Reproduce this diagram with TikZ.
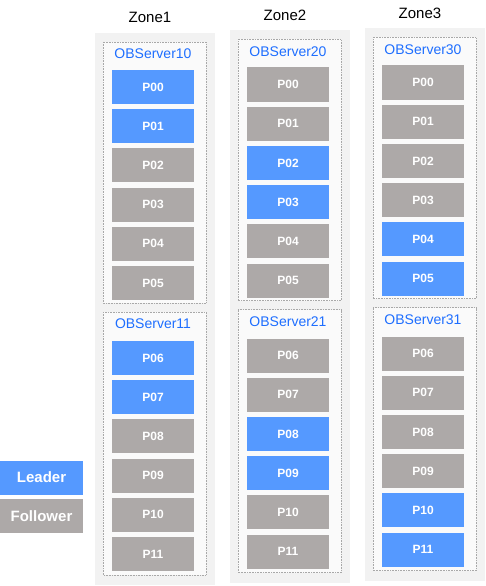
\documentclass[tikz,border=0pt]{standalone}
\usepackage{fontspec}
\setmainfont{Liberation Sans}
\usetikzlibrary{positioning}
\definecolor{LeaderBlue}{HTML}{5599FF}
\definecolor{FollowerGray}{HTML}{ADA9A8}
\definecolor{ZonePanel}{HTML}{F2F2F2}
\definecolor{ServerFill}{HTML}{FAFAFA}
\definecolor{ServerRule}{HTML}{A8A8A8}
\definecolor{ServerText}{HTML}{1E6EFF}
\tikzset{
  zonepanel/.style={fill=ZonePanel,draw=none},
  serverbox/.style={draw=ServerRule,fill=ServerFill,densely dotted,line width=.6pt},
  servername/.style={text=ServerText,font=\fontsize{14}{16}\selectfont,inner sep=0pt},
  zonename/.style={text=black,font=\fontsize{15}{17}\selectfont,inner sep=0pt},
  part/.style={minimum width=82pt,minimum height=34pt,inner sep=0pt,text=white,font=\bfseries\fontsize{12}{14}\selectfont},
  leader/.style={part,fill=LeaderBlue},
  follower/.style={part,fill=FollowerGray},
  legendbox/.style={minimum width=83pt,minimum height=34pt,inner sep=0pt,text=white,font=\bfseries\fontsize{15}{17}\selectfont}
}
\begin{document}
\begin{tikzpicture}[x=1pt,y=-1pt,node distance=4.8pt]
  \useasboundingbox (0,0) rectangle (486,586);
  % Zone1
  \begin{scope}
    \fill[zonepanel] (95,33) rectangle (215,585);
    \draw[serverbox] (103,42) rectangle (206,303);
    \draw[serverbox] (103,312) rectangle (206,575);
    \node[zonename] (z1name) at (150,17.5) {Zone1};
    \node[servername] (z1s0) at (153,54) {OBServer10};
    \node[servername] (z1s1) at (153,324) {OBServer11};
    \node[leader] (z1p00) at (153,87) {P00};
    \node[leader,below=of z1p00] (z1p01) {P01};
    \node[follower,below=of z1p01] (z1p02) {P02};
    \node[follower,below=of z1p02] (z1p03) {P03};
    \node[follower,below=of z1p03] (z1p04) {P04};
    \node[follower,below=of z1p04] (z1p05) {P05};
    \node[leader] (z1p06) at (153,358) {P06};
    \node[leader,below=of z1p06] (z1p07) {P07};
    \node[follower,below=of z1p07] (z1p08) {P08};
    \node[follower,below=of z1p08] (z1p09) {P09};
    \node[follower,below=of z1p09] (z1p10) {P10};
    \node[follower,below=of z1p10] (z1p11) {P11};
  \end{scope}
  % Zone2
  \begin{scope}[shift={(135,-2.5)}]
    \fill[zonepanel] (95,33) rectangle (215,585);
    \draw[serverbox] (103,42) rectangle (206,303);
    \draw[serverbox] (103,312) rectangle (206,575);
    \node[zonename] (z2name) at (150,17.5) {Zone2};
    \node[servername] (z2s0) at (153,54) {OBServer20};
    \node[servername] (z2s1) at (153,324) {OBServer21};
    \node[follower] (z2p00) at (153,87) {P00};
    \node[follower,below=of z2p00] (z2p01) {P01};
    \node[leader,below=of z2p01] (z2p02) {P02};
    \node[leader,below=of z2p02] (z2p03) {P03};
    \node[follower,below=of z2p03] (z2p04) {P04};
    \node[follower,below=of z2p04] (z2p05) {P05};
    \node[follower] (z2p06) at (153,358) {P06};
    \node[follower,below=of z2p06] (z2p07) {P07};
    \node[leader,below=of z2p07] (z2p08) {P08};
    \node[leader,below=of z2p08] (z2p09) {P09};
    \node[follower,below=of z2p09] (z2p10) {P10};
    \node[follower,below=of z2p10] (z2p11) {P11};
  \end{scope}
  % Zone3
  \begin{scope}[shift={(270,-4.5)}]
    \fill[zonepanel] (95,33) rectangle (215,585);
    \draw[serverbox] (103,42) rectangle (206,303);
    \draw[serverbox] (103,312) rectangle (206,575);
    \node[zonename] (z3name) at (150,17.5) {Zone3};
    \node[servername] (z3s0) at (153,54) {OBServer30};
    \node[servername] (z3s1) at (153,324) {OBServer31};
    \node[follower] (z3p00) at (153,87) {P00};
    \node[follower,below=of z3p00] (z3p01) {P01};
    \node[follower,below=of z3p01] (z3p02) {P02};
    \node[follower,below=of z3p02] (z3p03) {P03};
    \node[leader,below=of z3p03] (z3p04) {P04};
    \node[leader,below=of z3p04] (z3p05) {P05};
    \node[follower] (z3p06) at (153,358) {P06};
    \node[follower,below=of z3p06] (z3p07) {P07};
    \node[follower,below=of z3p07] (z3p08) {P08};
    \node[follower,below=of z3p08] (z3p09) {P09};
    \node[leader,below=of z3p09] (z3p10) {P10};
    \node[leader,below=of z3p10] (z3p11) {P11};
  \end{scope}
  % legend
  \node[legendbox,fill=LeaderBlue] (leaderkey) at (41.5,477.5) {Leader};
  \node[legendbox,fill=FollowerGray,below=4pt of leaderkey] (followerkey) {Follower};
\end{tikzpicture}
\end{document}
